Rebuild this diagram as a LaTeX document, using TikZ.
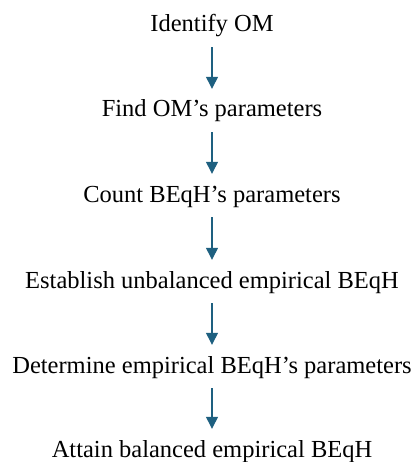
\documentclass[tikz,border=0pt]{standalone}
\usepackage{fontspec}
\setmainfont{Liberation Serif}
\usetikzlibrary{arrows.meta}

\definecolor{bleufleche}{RGB}{30,96,128}

\begin{document}
\begin{tikzpicture}[x=1pt, y=1pt,
    etape/.style={inner sep=0pt, anchor=base, text height=17pt, text depth=5.5pt,
      font=\fontsize{24.5}{29}\selectfont},
    fleche/.style={line width=1.3pt, draw=bleufleche,
      -{Triangle[length=12pt, width=12pt, fill=bleufleche]},
      shorten <=9.5pt, shorten >=11pt}]
      \useasboundingbox (0,0) rectangle (416,-462);

      \foreach \nom/\y/\texte in {id/32/Identify OM, param/117/Find OM’s parameters,
        compte/202/Count BEqH’s parameters, etab/288/Establish unbalanced empirical BEqH,
        determ/373/Determine empirical BEqH’s parameters, bal/457/Attain balanced empirical BEqH} {
        \node[etape] (\nom) at (212,-\y) {\texte};
      }

      \foreach \a/\b in {id/param, param/compte, compte/etab, etab/determ, determ/bal} {
        \draw[fleche] (\a.south) -- (\b.north);
      }
    \end{tikzpicture}
\end{document}
